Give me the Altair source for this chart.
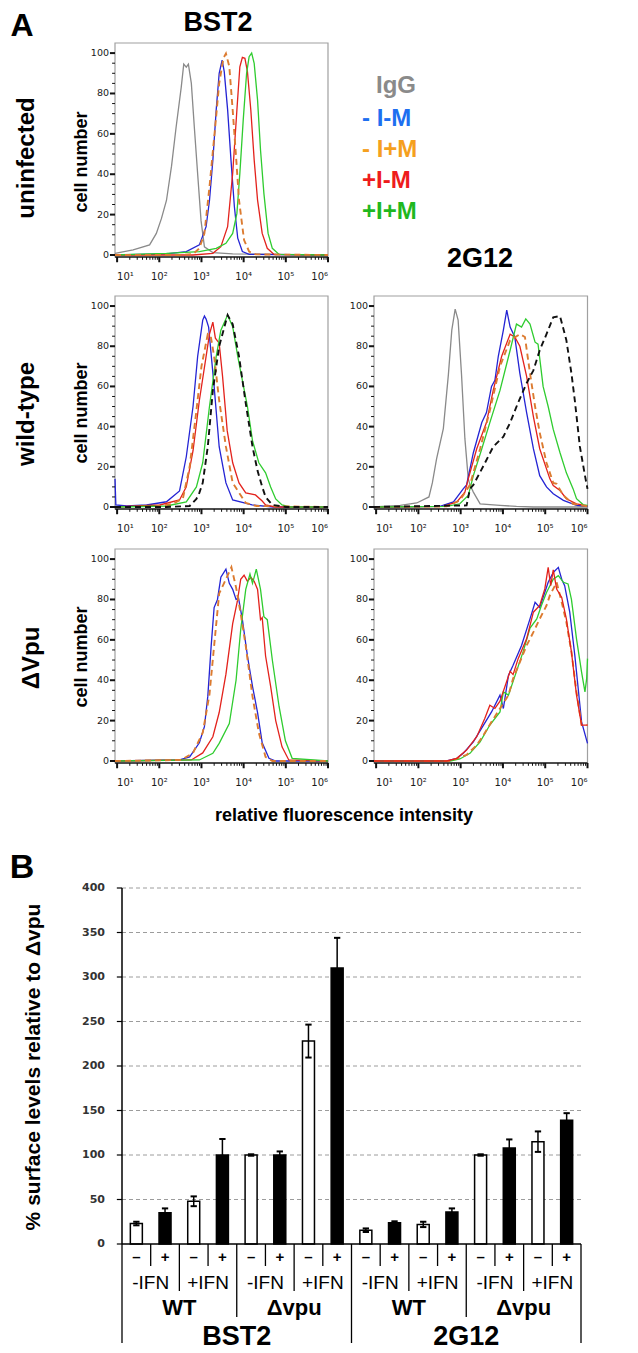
import altair as alt
import pandas as pd
import numpy as np

# ---------------------------------------------------------------- data
LOG_DOMAIN = [0.95, 6.0]          # log10 of fluorescence intensity
COUNT_DOMAIN = [-1, 105]          # cell number (% of max)
DECADES = [1, 2, 3, 4, 5, 6]
DECADE_LABELS = ["10¹", "10²", "10³", "10⁴", "10⁵", "10⁶"]
COUNT_TICKS = [0, 20, 40, 60, 80, 100]
COUNT_MINOR = [5, 10, 15, 25, 30, 35, 45, 50, 55, 65, 70, 75, 85, 90, 95]

# --- BST2, uninfected
U_IGG_X = [0.95, 1.38, 1.77, 1.93, 2.05, 2.17, 2.29, 2.4, 2.52, 2.58, 2.64, 2.69, 2.76, 2.83, 2.91, 2.99, 3.07, 3.27, 3.74, 6.0]
U_IGG_Y = [0.8, 2.5, 5, 10.7, 18, 27, 44, 63.5, 83, 94.5, 93, 94.5, 85, 63.5, 40, 17, 4, 1.2, 0.5, 0]
U_BLUE_X = [0.95, 2.17, 2.64, 2.95, 3.11, 3.19, 3.27, 3.35, 3.42, 3.49, 3.54, 3.62, 3.7, 3.78, 3.86, 3.97, 4.13, 6.0]
U_BLUE_Y = [0, 0.5, 1.7, 5, 14, 27, 47, 72, 90, 96.5, 90.8, 72, 47, 24, 8.3, 1.7, 0.3, 0]
U_ORANGE_X = [0.95, 2.5, 2.8, 2.95, 3.07, 3.19, 3.31, 3.42, 3.52, 3.58, 3.66, 3.74, 3.82, 3.89, 4.01, 4.13, 4.29, 6.0]
U_ORANGE_Y = [0, 0, 0.5, 3.3, 10.7, 33.7, 60, 85, 97.5, 99.8, 93.4, 71.8, 48.7, 27.2, 7.4, 1.7, 0.3, 0]
U_RED_X = [0.95, 2.8, 3.27, 3.46, 3.62, 3.74, 3.84, 3.91, 3.97, 4.03, 4.09, 4.17, 4.25, 4.33, 4.44, 4.56, 4.72, 6.0]
U_RED_Y = [0, 0, 0.8, 4.1, 14, 40.4, 71.8, 93.2, 97.9, 97.4, 90.8, 71.8, 47, 27.2, 10.7, 3.3, 0.3, 0]
U_GREEN_X = [0.95, 2.17, 2.95, 3.35, 3.58, 3.74, 3.84, 3.91, 3.99, 4.07, 4.13, 4.19, 4.25, 4.33, 4.4, 4.48, 4.58, 4.68, 4.84, 6.0]
U_GREEN_Y = [0, 0.8, 1.7, 3.3, 5.8, 10.7, 20.6, 40.4, 66.8, 90, 98.2, 100, 94.9, 76.7, 52, 30.5, 10.7, 3.3, 0.3, 0]

# --- BST2, wild-type
W_BLUE_X = [0.95, 0.97, 1.23, 1.7, 2.17, 2.48, 2.64, 2.8, 2.91, 3.03, 3.07, 3.11, 3.17, 3.3, 3.42, 3.58, 3.74, 4.2, 4.7, 6.0]
W_BLUE_Y = [14, 1, 0.5, 1, 2.6, 8, 25, 50, 75, 93, 95, 93.5, 89.5, 60, 30, 12, 3.5, 1, 0, 0]
W_ORANGE_X = [0.95, 1.85, 2.32, 2.56, 2.72, 2.88, 3.0, 3.15, 3.22, 3.3, 3.42, 3.58, 3.74, 4.05, 4.3, 6.0]
W_ORANGE_Y = [0, 0, 1.5, 4.3, 20, 48, 70, 86, 85, 75, 53, 30, 12, 2, 0.5, 0]
W_RED_X = [0.95, 2.01, 2.48, 2.64, 2.8, 2.95, 3.11, 3.19, 3.27, 3.33, 3.42, 3.5, 3.61, 3.74, 3.89, 4.05, 4.28, 4.44, 4.52, 4.75, 6.0]
W_RED_Y = [0, 1, 3.5, 10, 28, 53, 75, 86, 92, 84, 81.5, 65, 38, 22, 12, 7, 6, 3, 1, 0, 0]
W_GREEN_X = [0.95, 2.17, 2.64, 2.88, 3.03, 3.19, 3.35, 3.46, 3.62, 3.74, 3.86, 3.97, 4.09, 4.21, 4.36, 4.52, 4.64, 4.76, 4.91, 5.1, 6.0]
W_GREEN_Y = [0, 0.5, 2.5, 10, 22, 50, 75, 88, 95.5, 89.7, 75, 63, 50, 33, 22, 17, 10, 4, 1, 0, 0]
W_BLACK_X = [0.95, 2.17, 2.72, 2.88, 2.95, 3.03, 3.15, 3.27, 3.42, 3.62, 3.74, 3.89, 4.05, 4.21, 4.33, 4.44, 4.52, 4.68, 5.0, 6.0]
W_BLACK_Y = [0, 0, 0.5, 4, 7, 12, 30, 58, 80, 95.5, 91, 75, 51.6, 30, 18, 10, 5, 1, 0, 0]

# --- BST2, delta Vpu
D_BLUE_X = [0.95, 2.48, 2.72, 2.95, 3.07, 3.15, 3.23, 3.3, 3.38, 3.46, 3.58, 3.66, 3.74, 3.82, 3.88, 3.97, 4.09, 4.21, 4.33, 4.44, 4.6, 4.76, 6.0]
D_BLUE_Y = [0, 0.5, 2, 9, 17, 32, 57, 76, 80, 91, 95, 88, 85, 80, 80.5, 70, 52, 37, 24, 9, 1.3, 0, 0]
D_ORANGE_X = [0.95, 2.52, 2.8, 3.03, 3.19, 3.3, 3.42, 3.58, 3.71, 3.82, 3.93, 4.05, 4.21, 4.36, 4.52, 4.68, 6.0]
D_ORANGE_Y = [0, 0.5, 4, 14, 33, 57, 83, 90, 96, 86, 73, 57, 32, 14, 2, 0, 0]
D_RED_X = [0.95, 2.76, 3.03, 3.27, 3.42, 3.58, 3.74, 3.85, 3.93, 4.01, 4.09, 4.17, 4.25, 4.33, 4.4, 4.44, 4.52, 4.64, 4.76, 4.91, 5.07, 6.0]
D_RED_Y = [0, 0.5, 4, 12, 24, 43, 68, 79, 90, 92, 89, 91, 89, 85, 70, 71, 52, 37, 20, 7, 0.5, 0]
D_GREEN_X = [0.95, 2.95, 3.27, 3.42, 3.66, 3.82, 3.93, 4.05, 4.15, 4.21, 4.3, 4.4, 4.48, 4.56, 4.68, 4.84, 4.99, 5.15, 6.0]
D_GREEN_Y = [0, 0.5, 3.8, 8.7, 18.5, 40, 65, 85, 92.6, 88, 95, 85, 71.5, 70, 50, 27, 10, 1.3, 0]

# --- 2G12, wild-type
G_IGG_X = [0.95, 1.57, 1.96, 2.25, 2.33, 2.43, 2.59, 2.71, 2.79, 2.87, 2.94, 3.02, 3.1, 3.18, 3.22, 3.3, 3.46, 3.93, 4.32, 4.72, 6.0]
G_IGG_Y = [0, 0.8, 2, 5, 12, 24, 39, 66, 88, 98.5, 93, 66, 34, 14, 11, 7.4, 1.6, 0.8, 0.3, 0, 0]
G_BLUE_X = [0.95, 2.51, 2.83, 3.06, 3.14, 3.3, 3.5, 3.61, 3.73, 3.81, 3.89, 4.01, 4.09, 4.17, 4.28, 4.4, 4.56, 4.72, 4.87, 5.03, 5.19, 5.43, 5.74, 6.0]
G_BLUE_Y = [0, 0.3, 2.5, 9, 11, 27, 42, 47, 60, 63, 75, 88, 98, 89.5, 84.6, 66.5, 47, 29, 15.6, 10, 6.6, 3.3, 0.8, 0.3]
G_RED_X = [0.95, 2.59, 2.91, 3.1, 3.18, 3.38, 3.61, 3.77, 3.97, 4.17, 4.28, 4.4, 4.56, 4.72, 4.87, 5.11, 5.19, 5.35, 5.5, 5.74, 6.0]
G_RED_Y = [0, 0.3, 2.5, 7.4, 14, 29, 42, 58, 75, 86, 84.6, 80, 65, 45, 29, 14, 10.7, 8.2, 4.1, 1.6, 0.5]
G_ORANGE_X = [0.95, 2.67, 2.98, 3.22, 3.46, 3.69, 3.93, 4.17, 4.4, 4.52, 4.64, 4.76, 4.87, 5.03, 5.19, 5.27, 5.43, 5.66, 6.0]
G_ORANGE_Y = [0, 0.3, 3.3, 11, 29, 48, 70, 83, 86, 84.6, 66.5, 50, 37, 22, 12, 11.5, 5.7, 1.6, 0.3]
G_GREEN_X = [0.95, 2.67, 2.98, 3.18, 3.3, 3.5, 3.69, 3.93, 4.17, 4.32, 4.44, 4.54, 4.64, 4.76, 4.83, 4.95, 5.07, 5.19, 5.35, 5.5, 5.66, 5.74, 5.9, 6.0]
G_GREEN_Y = [0, 0.3, 1.6, 5.7, 15.6, 29, 42, 58, 78, 91, 89.5, 93.6, 91, 82, 81, 60, 50, 38.6, 27, 17, 9, 4.1, 1.1, 0.8]
G_BLACK_X = [0.95, 3.14, 3.22, 3.3, 3.54, 3.77, 4.01, 4.17, 4.36, 4.56, 4.72, 4.87, 5.03, 5.19, 5.35, 5.5, 5.62, 5.7, 5.82, 5.94, 6.0]
G_BLACK_Y = [0, 0.8, 9, 11, 20.5, 30, 35, 42, 52, 61.6, 68, 78, 86, 94.4, 95, 83, 66.5, 53, 30, 15.6, 9]

# --- 2G12, delta Vpu
V_BLUE_X = [0.95, 2.67, 2.91, 3.06, 3.3, 3.54, 3.73, 3.93, 4.01, 4.13, 4.24, 4.44, 4.64, 4.76, 4.87, 5.07, 5.19, 5.31, 5.39, 5.46, 5.58, 5.7, 5.78, 5.86, 6.0]
V_BLUE_Y = [0, 0, 1.3, 3.8, 9.5, 17.8, 24.3, 32.6, 26, 42.4, 47.4, 57.2, 70.4, 78.6, 76, 88.5, 93.4, 95.9, 90, 86.8, 73.7, 52.3, 35.9, 19.4, 8.7]
V_RED_X = [0.95, 2.67, 2.91, 3.14, 3.38, 3.57, 3.69, 3.81, 3.93, 4.09, 4.17, 4.24, 4.36, 4.56, 4.72, 4.87, 4.99, 5.07, 5.13, 5.19, 5.27, 5.39, 5.5, 5.62, 5.74, 5.86, 6.0]
V_RED_Y = [0, 0, 1.3, 5.4, 12, 21, 27.6, 26, 29.6, 39.5, 44.4, 42.8, 50.7, 60.5, 73.7, 77, 85.2, 95.9, 86.8, 94.7, 85.2, 81, 70.4, 54, 32.6, 17.8, 17.8]
V_ORANGE_X = [0.95, 2.75, 3.14, 3.38, 3.54, 3.73, 3.93, 4.13, 4.24, 4.4, 4.56, 4.72, 4.87, 5.03, 5.11, 5.27, 5.39, 5.5, 5.62, 5.74, 5.86, 6.0]
V_ORANGE_Y = [0, 0, 3, 7.9, 12.8, 19.4, 26, 32.6, 40.8, 49, 57.2, 63.8, 70.4, 77, 82, 88.5, 78.6, 68.8, 54, 34.2, 17.8, 17.8]
V_GREEN_X = [0.95, 2.75, 2.98, 3.22, 3.46, 3.69, 3.93, 4.01, 4.13, 4.32, 4.48, 4.64, 4.8, 4.91, 5.03, 5.19, 5.31, 5.43, 5.54, 5.62, 5.74, 5.86, 5.94, 5.98, 6.0]
V_GREEN_Y = [0, 0, 1, 3.8, 9.5, 17.8, 24.3, 34.2, 32.6, 44.4, 54.3, 65.8, 70.4, 77, 83.5, 90, 91.8, 88.5, 87.7, 80, 60.5, 44, 34.2, 40.8, 50.7]

# --- legend
LEGEND_LABELS = ["IgG", "- I-M", "- I+M", "+I-M", "+I+M"]
LEGEND_COLORS = ["#8a8a8a", "#1e6ff0", "#f5a01e", "#ee1c1c", "#1fb81f"]

# --- panel B bar chart
BAR_VALUES = [23, 35, 48, 100, 100, 100, 228, 310, 15.5, 24, 22, 36, 100, 108, 115, 139]
BAR_ERRORS = [2, 5, 5.5, 18, 0.8, 4, 18.5, 34, 2, 1.5, 3, 4, 0.8, 9.5, 11.5, 8]
SIGN_LABELS = ["–", "+"] * 8
IFN_LABELS = ["-IFN", "+IFN"] * 4
STRAIN_LABELS = ["WT", "Δvpu"] * 2
TARGET_LABELS = ["BST2", "2G12"]
BAR_TICKS = [0, 50, 100, 150, 200, 250, 300, 350, 400]

# ---------------------------------------------------------------- layout
W, H = 622, 1345
M = 8


def pg(v):
    return v - M


C_IGG = "#8a8a8a"
C_BLUE = "#2424d4"
C_ORANGE = "#dc7b30"
C_RED = "#e3221c"
C_GREEN = "#2fcc2f"
C_BLACK = "#111111"
AX_FONT = "DejaVu Sans"

PANEL_X = {"L": [pg(115), pg(328)], "R": [pg(374), pg(587.5)]}
PANEL_Y = {1: [pg(257), pg(43)], 2: [pg(509), pg(296)], 3: [pg(763), pg(549)]}

MINOR_X = [float(np.log10(k * 10 ** d)) for d in range(1, 6) for k in range(2, 10)]


def hist_panel(col, row, curves):
    xr = PANEL_X[col]
    yr = PANEL_Y[row]
    xs = alt.Scale(domain=LOG_DOMAIN, range=xr, nice=False, zero=False)
    ys = alt.Scale(domain=COUNT_DOMAIN, range=yr, nice=False, zero=False)

    def X(f):
        return alt.X(f, scale=xs, axis=None)

    def Y(f):
        return alt.Y(f, scale=ys, axis=None)

    frame_df = pd.DataFrame({"x": [LOG_DOMAIN[0]], "x2": [LOG_DOMAIN[1]],
                             "y": [COUNT_DOMAIN[0]], "y2": [COUNT_DOMAIN[1]]})
    frame = alt.Chart(frame_df).mark_rect(fillOpacity=0, stroke="#a0a0a0", strokeWidth=1.2).encode(
        x=X("x:Q"), x2="x2", y=Y("y:Q"), y2="y2")
    layers = [frame]
    for xv, yv, color, dashed in curves:
        df = pd.DataFrame({"x": xv, "y": yv})
        kw = dict(color=color, strokeWidth=1.9 if dashed else 1.3)
        if dashed:
            kw["strokeDash"] = [6, 4]
        layers.append(alt.Chart(df).mark_line(**kw).encode(x=X("x:Q"), y=Y("y:Q")))

    # x axis: domain line, major/minor ticks, labels
    dom_df = pd.DataFrame({"x": [LOG_DOMAIN[0]], "x2": [LOG_DOMAIN[1]], "y": [COUNT_DOMAIN[0]]})
    layers.append(alt.Chart(dom_df).mark_rule(color="#222222", strokeWidth=1.6).encode(
        x=X("x:Q"), x2="x2", y=Y("y:Q")))
    mx_df = pd.DataFrame({"x": MINOR_X, "y": COUNT_DOMAIN[0], "y2": COUNT_DOMAIN[0] - 1.4})
    layers.append(alt.Chart(mx_df).mark_rule(color="#111111", strokeWidth=1).encode(
        x=X("x:Q"), y=Y("y:Q"), y2="y2"))
    jx_df = pd.DataFrame({"x": DECADES, "y": COUNT_DOMAIN[0], "y2": COUNT_DOMAIN[0] - 2.6})
    layers.append(alt.Chart(jx_df).mark_rule(color="#111111", strokeWidth=2).encode(
        x=X("x:Q"), y=Y("y:Q"), y2="y2"))
    xl_df = pd.DataFrame({"x": DECADES, "t": DECADE_LABELS})
    for sub, al in [(xl_df.iloc[:1], "left"), (xl_df.iloc[1:-1], "center"), (xl_df.iloc[-1:], "right")]:
        layers.append(alt.Chart(sub).mark_text(
            align=al, baseline="alphabetic", font=AX_FONT, fontSize=10, color="#1a1a1a").encode(
            x=X("x:Q"), y=alt.value(yr[0] + 23), text="t:N"))

    # y axis: major/minor ticks, labels
    my_df = pd.DataFrame({"y": COUNT_MINOR, "x": LOG_DOMAIN[0], "x2": LOG_DOMAIN[0] - 0.07})
    layers.append(alt.Chart(my_df).mark_rule(color="#111111", strokeWidth=1).encode(
        x=X("x:Q"), x2="x2", y=Y("y:Q")))
    jy_df = pd.DataFrame({"y": COUNT_TICKS, "x": LOG_DOMAIN[0], "x2": LOG_DOMAIN[0] - 0.12})
    layers.append(alt.Chart(jy_df).mark_rule(color="#111111", strokeWidth=2).encode(
        x=X("x:Q"), x2="x2", y=Y("y:Q")))
    yl_df = pd.DataFrame({"y": COUNT_TICKS, "t": [str(v) for v in COUNT_TICKS]})
    layers.append(alt.Chart(yl_df).mark_text(
        align="right", baseline="middle", font=AX_FONT, fontSize=9.5, color="#1a1a1a").encode(
        x=alt.value(xr[0] - 6), y=Y("y:Q"), text="t:N"))
    return alt.layer(*layers)


p1 = hist_panel("L", 1, [(U_IGG_X, U_IGG_Y, C_IGG, False), (U_BLUE_X, U_BLUE_Y, C_BLUE, False),
                         (U_RED_X, U_RED_Y, C_RED, False), (U_GREEN_X, U_GREEN_Y, C_GREEN, False),
                         (U_ORANGE_X, U_ORANGE_Y, C_ORANGE, True)])
p2 = hist_panel("L", 2, [(W_BLUE_X, W_BLUE_Y, C_BLUE, False), (W_RED_X, W_RED_Y, C_RED, False),
                         (W_GREEN_X, W_GREEN_Y, C_GREEN, False), (W_ORANGE_X, W_ORANGE_Y, C_ORANGE, True),
                         (W_BLACK_X, W_BLACK_Y, C_BLACK, True)])
p3 = hist_panel("L", 3, [(D_BLUE_X, D_BLUE_Y, C_BLUE, False), (D_RED_X, D_RED_Y, C_RED, False),
                         (D_GREEN_X, D_GREEN_Y, C_GREEN, False), (D_ORANGE_X, D_ORANGE_Y, C_ORANGE, True)])
p4 = hist_panel("R", 2, [(G_IGG_X, G_IGG_Y, C_IGG, False), (G_BLUE_X, G_BLUE_Y, C_BLUE, False),
                         (G_RED_X, G_RED_Y, C_RED, False), (G_GREEN_X, G_GREEN_Y, C_GREEN, False),
                         (G_ORANGE_X, G_ORANGE_Y, C_ORANGE, True), (G_BLACK_X, G_BLACK_Y, C_BLACK, True)])
p5 = hist_panel("R", 3, [(V_BLUE_X, V_BLUE_Y, C_BLUE, False), (V_GREEN_X, V_GREEN_Y, C_GREEN, False),
                         (V_ORANGE_X, V_ORANGE_Y, C_ORANGE, True), (V_RED_X, V_RED_Y, C_RED, False)])

# ---------------------------------------------------------------- bar chart
n = len(BAR_VALUES)
idx = list(range(n))
bars_df = pd.DataFrame({
    "idx": idx,
    "value": BAR_VALUES,
    "lo": [v - e for v, e in zip(BAR_VALUES, BAR_ERRORS)],
    "hi": [v + e for v, e in zip(BAR_VALUES, BAR_ERRORS)],
    "cl": [i - 0.11 for i in idx],
    "cr": [i + 0.11 for i in idx],
    "fill": ["white" if s == "–" else "black" for s in SIGN_LABELS],
    "sign": SIGN_LABELS,
})
bx = alt.Scale(domain=[-0.5, n - 0.5], range=[pg(117), pg(586)], nice=False, zero=False)
by = alt.Scale(domain=[0, 400], range=[pg(1244), pg(888)], nice=False, zero=False)


def BX(f):
    return alt.X(f, scale=bx, axis=None)


def BY(f):
    return alt.Y(f, scale=by, axis=None)


grid_df = pd.DataFrame({"g": BAR_TICKS[1:], "x0": -0.5, "x1": n - 0.5})
grid = alt.Chart(grid_df).mark_rule(color="#9c9c9c", strokeDash=[4, 3], strokeWidth=1).encode(
    x=BX("x0:Q"), x2="x1", y=BY("g:Q"))
bars = alt.Chart(bars_df).mark_bar(size=12, stroke="black", strokeWidth=1.5, orient="vertical").encode(
    x=BX("idx:Q"), y=BY("value:Q"), fill=alt.Fill("fill:N", scale=None))
err = alt.Chart(bars_df).mark_rule(color="black", strokeWidth=1.5).encode(
    x=BX("idx:Q"), y=BY("lo:Q"), y2="hi")
cap_hi = alt.Chart(bars_df).mark_rule(color="black", strokeWidth=2).encode(
    x=BX("cl:Q"), x2="cr", y=BY("hi:Q"))
cap_lo = alt.Chart(bars_df).mark_rule(color="black", strokeWidth=2).encode(
    x=BX("cl:Q"), x2="cr", y=BY("lo:Q"))
base_df = pd.DataFrame({"x0": [-0.5], "x1": [n - 0.5], "y": [0]})
base = alt.Chart(base_df).mark_rule(color="black", strokeWidth=1.5).encode(
    x=BX("x0:Q"), x2="x1", y=BY("y:Q"))

# y axis of the bar chart
yax_df = pd.DataFrame({"x": [-0.5], "y": [0], "y2": [400]})
yax = alt.Chart(yax_df).mark_rule(color="black", strokeWidth=1.5).encode(
    x=BX("x:Q"), y=BY("y:Q"), y2="y2")
ytk_df = pd.DataFrame({"y": BAR_TICKS, "x": -0.5, "x2": -0.68, "t": [str(v) for v in BAR_TICKS]})
ytk = alt.Chart(ytk_df).mark_rule(color="black", strokeWidth=1.2).encode(
    x=BX("x:Q"), x2="x2", y=BY("y:Q"))
ytl = alt.Chart(ytk_df).mark_text(align="right", baseline="middle", font=AX_FONT, fontWeight="bold",
                                  fontSize=11, color="#333333").encode(
    x=alt.value(pg(105)), y=BY("y:Q"), text="t:N")

SEP_LEVELS = [
    ([i + 0.5 for i in range(0, n - 1, 2)], 1266),
    ([i + 1.5 for i in range(0, n, 4)], 1291),
    ([i + 3.5 for i in range(0, n, 8)], 1317),
    ([-0.5, n / 2 - 0.5, n - 0.5], 1343),
]
seps = []
for pos, bottom in SEP_LEVELS:
    seps.append(alt.Chart(pd.DataFrame({"p": pos})).mark_rule(color="black", strokeWidth=1.3).encode(
        x=BX("p:Q"), y=alt.value(pg(1244)), y2=alt.value(pg(bottom))))

sign_txt = alt.Chart(bars_df).mark_text(font="Liberation Sans", fontSize=15, fontWeight="bold",
                                         baseline="middle").encode(
    x=BX("idx:Q"), y=alt.value(pg(1257)), text="sign:N")
ifn_df = pd.DataFrame({"p": [i + 0.5 for i in range(0, n, 2)], "t": IFN_LABELS})
ifn_txt = alt.Chart(ifn_df).mark_text(font="Liberation Sans", fontSize=19, baseline="middle").encode(
    x=BX("p:Q"), y=alt.value(pg(1283)), text="t:N")
strain_df = pd.DataFrame({"p": [i + 1.5 for i in range(0, n, 4)], "t": STRAIN_LABELS})
strain_txt = alt.Chart(strain_df).mark_text(font="Liberation Sans", fontSize=22, fontWeight="bold",
                                             baseline="middle").encode(
    x=BX("p:Q"), y=alt.value(pg(1308)), text="t:N")
target_df = pd.DataFrame({"p": [i + 3.5 for i in range(0, n, 8)], "t": TARGET_LABELS})
target_txt = alt.Chart(target_df).mark_text(font="Liberation Sans", fontSize=27, fontWeight="bold",
                                             baseline="alphabetic").encode(
    x=BX("p:Q"), y=alt.value(pg(1345)), text="t:N")

bar_panel = alt.layer(grid, bars, err, cap_hi, cap_lo, base, yax, ytk, ytl, *seps,
                      sign_txt, ifn_txt, strain_txt, target_txt)


# ---------------------------------------------------------------- annotations
def label(text, x, y, size, color="black", weight="bold", angle=0, align="center",
          baseline="middle", font="Liberation Sans"):
    return alt.Chart(pd.DataFrame({"t": [text]})).mark_text(
        font=font, fontSize=size, fontWeight=weight, color=color, angle=angle,
        align=align, baseline=baseline).encode(text="t:N", x=alt.value(pg(x)), y=alt.value(pg(y)))


notes = [
    label("A", 22, 26, 32),
    label("B", 22, 868, 34),
    label("BST2", 218, 23, 27),
    label("2G12", 480, 259, 27),
    label("uninfected", 26.6, 158, 24, angle=270),
    label("wild-type", 26.6, 414, 24, angle=270),
    label("ΔVpu", 31.5, 658, 24, angle=270),
    label("cell number", 82, 162, 18, angle=270),
    label("cell number", 82, 413, 18, angle=270),
    label("cell number", 82, 657, 18, angle=270),
    label("relative fluorescence intensity", 344, 816, 18),
    label("% surface levels relative to Δvpu", 34, 1067, 21, angle=270),
]
LEGEND_X = [376, 362, 362, 362, 362]
LEGEND_Y = [93, 126, 157, 188, 219]
for t, c, lx, ly in zip(LEGEND_LABELS, LEGEND_COLORS, LEGEND_X, LEGEND_Y):
    notes.append(label(t, lx, ly, 24, color=c, align="left", baseline="alphabetic"))

chart = alt.layer(p1, p2, p3, p4, p5, bar_panel, *notes).resolve_scale(
    x="independent", y="independent"
).properties(
    width=W, height=H, autosize=alt.AutoSizeParams(type="none"), padding=0
).configure_view(stroke=None)

chart.save("out.html", embed_options={"renderer": "svg", "actions": False})
